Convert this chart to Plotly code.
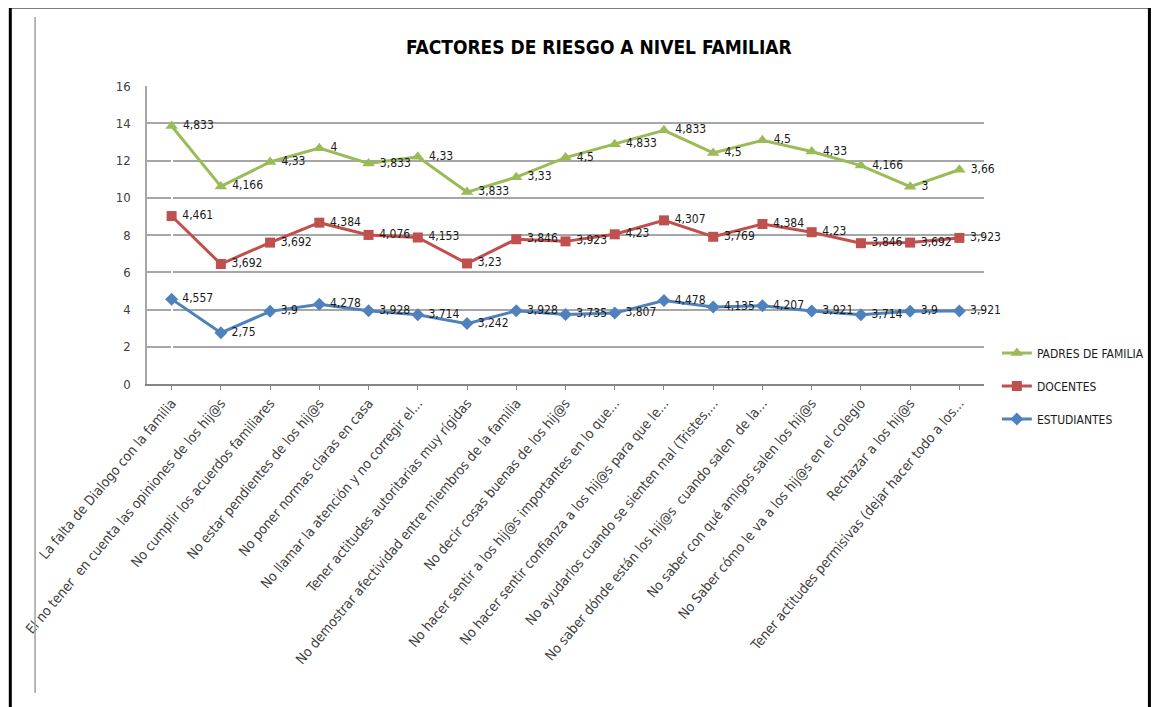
import numpy as np
import plotly.graph_objects as go

categories = [
    "La falta de Dialogo con la familia",
    "El no tener  en cuenta las opiniones de los hij@s",
    "No cumplir los acuerdos familiares",
    "No estar pendientes de los hij@s",
    "No poner normas claras en casa",
    "No llamar la atención y no corregir el...",
    "Tener actitudes autoritarias muy rígidas",
    "No demostrar afectividad entre miembros de la familia",
    "No decir cosas buenas de los hij@s",
    "No hacer sentir a los hij@s importantes en lo que...",
    "No hacer sentir confianza a los hij@s para que le...",
    "No ayudarlos cuando se sienten mal (Tristes,...",
    "No saber dónde están los hij@s  cuando salen  de la...",
    "No saber con qué amigos salen los hij@s",
    "No Saber cómo le va a los hij@s en el colegio",
    "Rechazar a los hij@s",
    "Tener actitudes permisivas (dejar hacer todo a los...",
]

estudiantes = [4.557, 2.75, 3.9, 4.278, 3.928, 3.714, 3.242, 3.928, 3.735, 3.807,
               4.478, 4.135, 4.207, 3.921, 3.714, 3.9, 3.921]
docentes = [4.461, 3.692, 3.692, 4.384, 4.076, 4.153, 3.23, 3.846, 3.923, 4.23,
            4.307, 3.769, 4.384, 4.23, 3.846, 3.692, 3.923]
padres = [4.833, 4.166, 4.33, 4, 3.833, 4.33, 3.833, 3.33, 4.5, 4.833,
          4.833, 4.5, 4.5, 4.33, 4.166, 3, 3.66]

series = [
    ("ESTUDIANTES", estudiantes, "#4F81BD", "diamond", 10, 3),
    ("DOCENTES", docentes, "#C0504D", "square", 10, 2),
    ("PADRES DE FAMILIA", padres, "#9BBB59", "triangle-up", 11, 1),
]

FONT = "DejaVu Sans Condensed, Lato, sans-serif"

def fmt(v):
    s = ("%.3f" % v).rstrip("0").rstrip(".")
    return s.replace(".", ",")

fig = go.Figure()
cum = np.zeros(len(categories))
for name, vals, color, sym, msize, rank in series:
    cum = cum + np.array(vals)
    fig.add_trace(go.Scatter(
        x=list(range(len(categories))), y=cum.copy(), name=name,
        legendgroup=name, legendrank=rank,
        mode="lines+markers+text",
        line=dict(color=color, width=3),
        marker=dict(symbol=sym, size=msize, color=color),
        text=[" " + fmt(v) for v in vals],
        textposition="middle right",
        textfont=dict(family=FONT, size=12, color="#1a1a1a"),
        cliponaxis=False,
    ))

# page body has an 8px margin: lay out in screen pixels, offset by it
OFF = 8
W, H = 1161 - OFF, 707 - OFF
L, R, T, B = 147, 992, 86, 384
def px(x):
    return (x - L) / (R - L)
def py(y):
    return (B - y) / (B - T)

shapes = [
    dict(type="line", xref="paper", yref="paper", x0=px(9), x1=px(9), y0=py(7), y1=py(720),
         line=dict(color="black", width=3)),
    dict(type="line", xref="paper", yref="paper", x0=px(1159), x1=px(1159), y0=py(7), y1=py(720),
         line=dict(color="black", width=3)),
    dict(type="line", xref="paper", yref="paper", x0=px(8), x1=px(1160), y0=py(7), y1=py(7),
         line=dict(color="black", width=3)),
    dict(type="line", xref="paper", yref="paper", x0=px(34), x1=px(34), y0=py(17), y1=py(693),
         line=dict(color="#a0a0a0", width=1.5)),
]

fig.update_layout(
    width=W, height=H,
    margin=dict(l=L - OFF, r=W + OFF - R, t=T - OFF, b=H + OFF - B, pad=0),
    paper_bgcolor="white", plot_bgcolor="white",
    title=dict(text="<b>FACTORES DE RIESGO A NIVEL FAMILIAR</b>",
               x=px(580), xanchor="center", y=1 - (47 - OFF) / H, yanchor="middle",
               font=dict(family=FONT, size=19, color="black")),
    xaxis=dict(
        tickmode="array", tickvals=list(range(len(categories))), ticktext=categories,
        range=[-0.5, len(categories) - 0.5], tickangle=-50, automargin=False,
        showgrid=False, showline=True, linecolor="#868686", linewidth=1.5,
        ticks="outside", ticklen=4, tickcolor="#868686",
        tickfont=dict(family=FONT, size=13.8, color="#404040"),
    ),
    yaxis=dict(
        range=[0, 16], dtick=2, showgrid=True, gridcolor="#a6a6a6", gridwidth=1.5,
        showline=True, linecolor="#a6a6a6", linewidth=1.5, zeroline=False,
        automargin=False, ticks="", ticklabelstandoff=12,
        tickfont=dict(family=FONT, size=13, color="#404040"),
    ),
    legend=dict(x=px(1005), xanchor="left", y=py(386), yanchor="middle",
                traceorder="grouped", tracegroupgap=14,
                font=dict(family=FONT, size=12, color="#1a1a1a"),
                itemwidth=30, bgcolor="rgba(0,0,0,0)"),
    shapes=shapes,
    showlegend=True,
)

fig.write_html("out.html")
